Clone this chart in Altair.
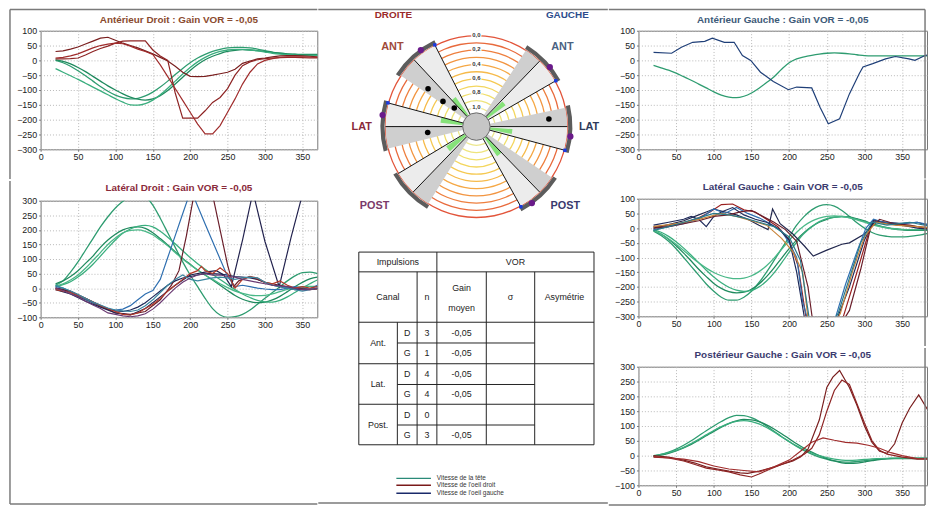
import math
import altair as alt
import pandas as pd

FONT = "Liberation Sans"

# ---------------------------------------------------------------- time grid (ms)
T = [20, 30, 40, 50, 60, 70, 80, 90, 100, 110, 120, 130, 140, 150, 160, 170, 180, 190, 200,
     210, 220, 230, 240, 250, 260, 270, 280, 290, 300, 310, 320, 330, 340, 350, 360, 370, 380, 390]

# ---------------------------------------------------------------- Antérieur Droit
AD_HEAD_1 = [0, -8, -20, -35, -52, -70, -88, -104, -117, -126, -130, -128, -120, -107, -90, -70, -48, -27, -8,
             8, 20, 30, 37, 42, 44, 44, 42, 38, 33, 28, 24, 21, 20, 19, 18, 18, 18, 18]
AD_HEAD_2 = [2, -3, -12, -24, -38, -54, -70, -86, -100, -113, -124, -131, -134, -130, -119, -102, -80, -57, -34,
             -14, 2, 14, 23, 30, 34, 36, 35, 33, 30, 27, 24, 22, 21, 20, 20, 20, 20, 20]
AD_HEAD_3 = [-28, -40, -52, -64, -77, -90, -103, -116, -129, -141, -150, -151, -146, -134, -116, -94, -70, -46, -24,
             -5, 10, 22, 30, 35, 37, 37, 35, 32, 28, 24, 21, 19, 18, 17, 17, 17, 17, 17]
AD_EYE_1 = [30, 32, 38, 45, 55, 65, 75, 78, 68, 58, 50, 42, 32, 22, 10, -2, -20, -40, -54,
            -55, -54, -50, -45, -40, -30, -10, -2, 5, 8, 12, 15, 16, 16, 15, 14, 12, 12, 12]
AD_EYE_2 = [5, 5, 6, 8, 18, 30, 40, 48, 58, 65, 66, 66, 66, 35, 15, 0, -110, -195, -195,
            -195, -170, -142, -125, -95, -50, -18, -5, 2, 6, 8, 9, 10, 10, 9, 8, 8, 8, 8]
AD_EYE_3 = [8, 10, 15, 22, 32, 42, 50, 55, 58, 56, 48, 38, 30, 20, -15, -55, -95, -135, -175,
            -215, -248, -248, -220, -175, -130, -80, -40, -12, 0, 6, 10, 12, 12, 12, 11, 10, 10, 10]

# ---------------------------------------------------------------- Latéral Droit
LD_HEAD_1 = [10, 25, 55, 90, 130, 170, 210, 245, 275, 298, 318, 325, 315, 285, 240, 190, 140, 90, 45,
             5, -35, -70, -92, -100, -98, -90, -75, -55, -35, -15, 5, 25, 42, 53, 55, 50, 42, 35]
LD_HEAD_2 = [15, 25, 40, 60, 85, 110, 140, 165, 185, 200, 208, 210, 205, 190, 170, 148, 125, 102, 82,
             62, 45, 28, 10, -8, -25, -38, -46, -50, -48, -40, -28, -12, 5, 20, 32, 38, 40, 40]
LD_HEAD_3 = [5, 12, 22, 38, 58, 82, 110, 138, 165, 188, 203, 212, 215, 210, 195, 175, 152, 128, 105,
             84, 65, 47, 30, 12, -5, -20, -32, -42, -47, -48, -42, -30, -15, 0, 15, 28, 35, 38]
LD_HEAD_4 = [8, 15, 28, 45, 68, 95, 122, 150, 172, 190, 198, 200, 195, 183, 165, 145, 122, 100, 80,
             62, 45, 30, 15, 2, -10, -18, -24, -26, -25, -20, -12, -4, 2, 5, 6, 6, 5, 5]
LD_EYE_1 = [0, -5, -15, -28, -40, -50, -62, -72, -78, -80, -75, -65, -50, -30, -10, 10, 25, 35, 40,
            45, 50, 50, 48, 45, 40, 38, 35, 30, 20, 10, 5, 0, -5, -5, -3, -2, 0, 0]
LD_EYE_2_X = [20, 30, 40, 50, 60, 70, 80, 90, 100, 110, 120, 130, 140, 150, 160, 170, 180, 190, 200,
              207, 220, 230, 240, 250, 260, 270, 280, 290, 300, 310, 320, 330, 340, 350, 360, 370, 380, 390]
LD_EYE_2_Y = [5, 0, -12, -25, -38, -50, -62, -72, -75, -72, -60, -40, -20, -8, 30, 105, 180, 255, 330,
              300, 220, 160, 100, 40, 5, 10, 5, 0, -3, -5, -5, 0, 5, 0, -3, 10, 60, 150]
LD_EYE_3_X = [20, 40, 60, 80, 100, 120, 140, 160, 175, 185, 195, 205, 230, 240, 250, 258, 265, 280,
              300, 320, 340, 360, 380, 390]
LD_EYE_3_Y = [0, -10, -35, -60, -85, -90, -80, -40, 10, 60, 180, 320, 320, 200, 80, 5, 25, 40,
              20, 10, 0, -5, 0, 0]
LD_EYE_4_X = [20, 40, 60, 80, 100, 120, 140, 160, 180, 200, 220, 235, 245, 255, 270, 284, 300, 319, 335, 352]
LD_EYE_4_Y = [-5, -20, -45, -65, -85, -92, -70, -30, 10, 45, 55, 60, 45, 5, 165, 330, 160, 5, 175, 340]
LD_EYE_5_X = [20, 40, 60, 80, 100, 110, 120, 130, 140, 150, 160, 170, 180, 190, 200, 210, 215, 220, 230,
              240, 250, 260, 270, 280, 290, 300, 310, 320, 330, 340, 350, 360, 370, 380, 390]
LD_EYE_5_Y = [-5, -15, -35, -60, -80, -90, -92, -85, -70, -55, -35, -10, 10, 30, 50, 60, 75, 60, 50,
              70, 50, 0, 30, 40, 35, 20, 15, 25, 10, 0, 5, 0, 5, 5, 5]
LD_EYE_6 = [10, 0, -10, -22, -35, -48, -58, -68, -75, -78, -80, -75, -60, -40, -15, 10, 30, 45, 30,
            25, 30, 35, 38, 35, 30, 35, 38, 35, 20, 10, 5, 0, -5, -10, -5, 0, 5, 5]
LD_EYE_7 = [0, -8, -20, -30, -45, -58, -70, -85, -90, -95, -98, -95, -88, -72, -50, -25, 0, 20, 35,
            45, 50, 45, 45, 40, 38, 30, 25, 20, 15, 10, 8, 5, 0, -5, -5, 0, 0, 0]

# ---------------------------------------------------------------- Antérieur Gauche
AG_HEAD = [-17, -25, -33, -43, -55, -67, -80, -93, -106, -117, -124, -126, -121, -110, -94, -75, -55, -30, -8,
           5, 12, 17, 21, 24, 25, 24, 22, 19, 16, 15, 15, 15, 15, 15, 15, 15, 15, 15]
AG_EYE_X = [20, 44, 57, 72, 88, 98, 114, 127, 138, 149, 162, 179, 199, 210, 230, 241, 252, 267, 280,
            293, 298, 311, 328, 341, 359, 367, 381, 390]
AG_EYE_Y = [27, 24, 44, 61, 64, 75, 61, 61, 16, 0, -40, -71, -99, -90, -93, -158, -214, -197, -113,
            -45, -22, -11, 5, 13, 5, 0, 17, 20]

# ---------------------------------------------------------------- Latéral Gauche
LG_HEAD_1 = [-10, -25, -45, -70, -100, -130, -160, -190, -215, -235, -245, -245, -235, -215, -185, -150, -110, -70, -30,
             10, 40, 62, 76, 80, 75, 60, 40, 18, 0, -15, -24, -28, -30, -30, -28, -25, -20, -15]
LG_HEAD_2 = [-8, -20, -38, -60, -85, -112, -140, -165, -188, -205, -216, -220, -218, -208, -190, -165, -135, -102, -70,
             -40, -15, 5, 20, 30, 37, 40, 38, 32, 25, 15, 8, 2, -3, -6, -8, -8, -8, -8]
LG_HEAD_3 = [-5, -14, -28, -46, -68, -92, -118, -143, -166, -186, -201, -211, -215, -212, -200, -180, -152, -118, -82,
             -48, -18, 5, 22, 32, 37, 38, 36, 30, 22, 14, 7, 2, -2, -4, -5, -5, -5, -5]
LG_HEAD_4 = [-8, -20, -36, -55, -76, -98, -118, -136, -151, -162, -169, -172, -170, -162, -148, -128, -102, -72, -42,
             -14, 8, 24, 34, 40, 42, 40, 35, 28, 20, 12, 5, 0, -3, -5, -5, -5, -5, -5]
LG_EYE_1_X = [20, 40, 60, 80, 95, 110, 125, 140, 155, 170, 185, 200, 212, 224, 258, 272, 290, 305, 312, 325, 345, 370, 390]
LG_EYE_1_Y = [5, 8, 18, 35, 55, 80, 82, 62, 55, 30, 5, -40, -130, -330, -330, -300, -150, -20, 28, 20, 10, 5, 0]
LG_EYE_2_X = [20, 40, 60, 80, 90, 100, 115, 130, 145, 160, 172, 178, 188, 205, 220, 232, 250, 270, 280, 300,
              315, 330, 350, 370, 390]
LG_EYE_2_Y = [0, 12, 25, 45, 55, 65, 55, 45, 30, 10, -5, 65, 15, -20, -60, -95, -75, -55, -50, -20,
              25, 20, 15, 20, 5]
LG_EYE_3_X = [20, 40, 60, 80, 100, 115, 130, 145, 160, 175, 190, 200, 210, 218, 232, 250, 262, 275, 290, 302,
              312, 325, 345, 370, 390]
LG_EYE_3_Y = [-5, 5, 15, 30, 65, 50, 70, 50, 35, 15, -10, -50, -100, -250, -380, -380, -300, -190, -80, 0,
              30, 20, 15, 20, 10]
LG_EYE_4_X = [20, 40, 60, 70, 80, 90, 100, 110, 125, 140, 155, 170, 185, 200, 210, 222, 250, 265, 280, 300,
              312, 330, 350, 370, 390]
LG_EYE_4_Y = [10, 20, 30, 40, 30, 5, 40, 55, 70, 45, 30, 20, 0, -40, -150, -330, -330, -300, -200, -40,
              25, 15, 10, 0, -5]
LG_EYE_5_X = [20, 40, 60, 80, 100, 120, 135, 150, 165, 180, 195, 210, 225, 232, 268, 280, 295, 308, 320, 340, 360, 390]
LG_EYE_5_Y = [0, 5, 15, 25, 40, 45, 55, 60, 40, 20, -5, -45, -200, -330, -330, -280, -140, 0, 30, 15, 10, -5]
LG_EYE_6_X = [20, 50, 80, 110, 130, 150, 170, 190, 205, 218, 226, 260, 268, 285, 300, 315, 340, 370, 390]
LG_EYE_6_Y = [5, 15, 30, 50, 40, 25, 10, -35, -80, -150, -330, -330, -290, -140, -30, 20, 10, 5, 0]
LG_EYE_7_X = [20, 40, 60, 80, 100, 120, 140, 160, 180, 200, 215, 228, 255, 265, 280, 295, 310, 330, 360, 390]
LG_EYE_7_Y = [-8, 5, 20, 35, 50, 45, 35, 20, 5, -30, -110, -330, -330, -290, -170, -50, 20, 10, 20, 5]

# ---------------------------------------------------------------- Postérieur Gauche
PG_HEAD_1 = [-2, 4, 12, 22, 35, 50, 67, 84, 100, 115, 128, 136, 135, 128, 116, 100, 82, 64, 47,
             31, 17, 5, -5, -12, -18, -21, -22, -20, -17, -14, -12, -10, -9, -8, -8, -8, -8, -8]
PG_HEAD_2 = [-2, 2, 8, 16, 26, 38, 52, 67, 82, 96, 108, 117, 122, 121, 115, 104, 90, 74, 57,
             40, 25, 12, 0, -10, -18, -24, -26, -25, -21, -17, -13, -11, -10, -10, -10, -10, -10, -10]
PG_HEAD_3 = [0, 4, 10, 18, 28, 41, 55, 70, 85, 98, 109, 116, 118, 115, 107, 95, 80, 64, 48,
             33, 20, 9, 0, -7, -12, -15, -16, -15, -13, -11, -10, -9, -8, -8, -8, -8, -8, -8]
PG_EYE_1_X = [20, 40, 60, 75, 90, 105, 120, 135, 145, 160, 175, 190, 205, 215, 225, 240, 250, 258, 267, 280,
              290, 300, 310, 320, 330, 340, 350, 360, 372, 385]
PG_EYE_1_Y = [0, -5, -15, -25, -38, -45, -52, -58, -60, -52, -42, -30, -18, -5, 22, 120, 230, 265, 287, 230,
              170, 100, 45, 15, 8, 40, 110, 160, 205, 150]
PG_EYE_2_X = [20, 40, 60, 75, 90, 105, 120, 135, 150, 160, 175, 190, 205, 220, 230, 240, 250, 260, 270, 280,
              290, 300, 310, 320, 330, 350, 370, 390]
PG_EYE_2_Y = [-5, -8, -18, -30, -42, -48, -55, -65, -72, -62, -45, -30, -15, 5, 25, 70, 150, 220, 255, 240,
              175, 110, 50, 18, 5, -5, -12, -10]
PG_EYE_3_X = [20, 40, 60, 80, 100, 120, 140, 160, 180, 200, 215, 230, 245, 260, 275, 290, 305, 320, 335, 350, 370, 390]
PG_EYE_3_Y = [-3, -8, -12, -20, -35, -45, -50, -55, -38, -15, 15, 45, 60, 52, 45, 42, 35, 25, 10, 0, -10, -12]

# ---------------------------------------------------------------- colours
HEAD_COLS = ["#2e9c70", "#1f8a5e", "#3aae7e", "#4ab888"]
RED_COLS = ["#7a1f1f", "#8e2424", "#a02c2c"]

TRACES = [
    ("AD", "head", HEAD_COLS[0], T, AD_HEAD_1), ("AD", "head", HEAD_COLS[1], T, AD_HEAD_2),
    ("AD", "head", HEAD_COLS[2], T, AD_HEAD_3),
    ("AD", "eye", RED_COLS[0], T, AD_EYE_1), ("AD", "eye", RED_COLS[1], T, AD_EYE_2),
    ("AD", "eye", RED_COLS[2], T, AD_EYE_3),
    ("LD", "head", HEAD_COLS[0], T, LD_HEAD_1), ("LD", "head", HEAD_COLS[1], T, LD_HEAD_2),
    ("LD", "head", HEAD_COLS[2], T, LD_HEAD_3), ("LD", "head", HEAD_COLS[3], T, LD_HEAD_4),
    ("LD", "eye", "#1e2a5a", T, LD_EYE_1), ("LD", "eye", "#2f6fb0", LD_EYE_2_X, LD_EYE_2_Y),
    ("LD", "eye", "#6a1e2a", LD_EYE_3_X, LD_EYE_3_Y), ("LD", "eye", "#22224e", LD_EYE_4_X, LD_EYE_4_Y),
    ("LD", "eye", "#b33a2a", LD_EYE_5_X, LD_EYE_5_Y), ("LD", "eye", "#3a86a0", T, LD_EYE_6),
    ("LD", "eye", "#6a3a72", T, LD_EYE_7),
    ("AG", "head", HEAD_COLS[0], T, AG_HEAD), ("AG", "eye", "#1f3f78", AG_EYE_X, AG_EYE_Y),
    ("LG", "head", HEAD_COLS[0], T, LG_HEAD_1), ("LG", "head", HEAD_COLS[1], T, LG_HEAD_2),
    ("LG", "head", HEAD_COLS[2], T, LG_HEAD_3), ("LG", "head", HEAD_COLS[3], T, LG_HEAD_4),
    ("LG", "eye", "#9a2020", LG_EYE_1_X, LG_EYE_1_Y), ("LG", "eye", "#22284e", LG_EYE_2_X, LG_EYE_2_Y),
    ("LG", "eye", "#2f6fb0", LG_EYE_3_X, LG_EYE_3_Y), ("LG", "eye", "#1e2a5a", LG_EYE_4_X, LG_EYE_4_Y),
    ("LG", "eye", "#6a1e2a", LG_EYE_5_X, LG_EYE_5_Y), ("LG", "eye", "#c8843a", LG_EYE_6_X, LG_EYE_6_Y),
    ("LG", "eye", "#2a7a8a", LG_EYE_7_X, LG_EYE_7_Y),
    ("PG", "head", HEAD_COLS[0], T, PG_HEAD_1), ("PG", "head", HEAD_COLS[1], T, PG_HEAD_2),
    ("PG", "head", HEAD_COLS[2], T, PG_HEAD_3),
    ("PG", "eye", RED_COLS[0], PG_EYE_1_X, PG_EYE_1_Y), ("PG", "eye", RED_COLS[1], PG_EYE_2_X, PG_EYE_2_Y),
    ("PG", "eye", RED_COLS[2], PG_EYE_3_X, PG_EYE_3_Y),
]

rows = []
for i, (pan, kind, col, xs, ys) in enumerate(TRACES):
    for x, y in zip(xs, ys):
        rows.append({"panel": pan, "kind": kind, "trace": f"t{i}", "color": col, "x": x, "y": y})
DF = pd.DataFrame(rows)

XTICKS = [0, 50, 100, 150, 200, 250, 300, 350]

# ---------------------------------------------------------------- window frame pieces
# horizontal ("h", x1, x2, y) or vertical ("v", x, y1, y2) pieces, in pixels relative to the
# plot origin of the view that carries them; drawn as thin filled rectangles
ONE = pd.DataFrame({"k": [0]})
FRAME_COLOR = "#7a7a7a"
FW = 0.75
NO_VIEW = alt.ViewBackground(stroke="transparent", strokeWidth=0)


def frame_layers(segs):
    out = []
    for kind, a, b, c in segs:
        if kind == "h":
            x1, x2, y1, y2 = a, b, c - FW, c + FW
        else:
            x1, x2, y1, y2 = a - FW, a + FW, b, c
        out.append(alt.Chart(ONE).mark_rect(color=FRAME_COLOR, opacity=1).encode(
            x=alt.value(x1), x2=alt.value(x2), y=alt.value(y1), y2=alt.value(y2)))
    return out


def panel(pid, title, tcolor, ydom, w, h, xmax, title_dy, segs=()):
    d = DF[DF.panel == pid]
    xenc = alt.X("x:Q", scale=alt.Scale(domain=[0, xmax], nice=False, zero=False),
                 axis=alt.Axis(values=XTICKS, title=None, grid=True, gridColor="#b8b8b8", gridDash=[1, 2],
                               domain=False, tickSize=2, tickColor="#777", labelFontSize=9,
                               labelFont=FONT, labelColor="#222", labelPadding=1, labelFlush=False,
                               labelOverlap=False, minExtent=14, maxExtent=14))
    yenc = alt.Y("y:Q", scale=alt.Scale(domain=ydom, nice=False, zero=False),
                 axis=alt.Axis(values=list(range(ydom[0], ydom[1] + 1, 50)), title=None, grid=True,
                               gridColor="#b8b8b8", gridDash=[1, 2], domain=False, tickSize=2,
                               tickColor="#777", labelFontSize=9, labelFont=FONT, labelColor="#222",
                               labelPadding=2, labelFlush=False, labelOverlap=False,
                               minExtent=30, maxExtent=30))
    col = alt.Color("color:N", scale=None)
    heads = alt.Chart(d[d.kind == "head"]).mark_line(clip=True, strokeWidth=1.3, interpolate="monotone").encode(
        x=xenc, y=yenc, color=col, detail="trace:N")
    eyes = alt.Chart(d[d.kind == "eye"]).mark_line(clip=True, strokeWidth=1.2).encode(
        x=xenc, y=yenc, color=col, detail="trace:N")
    ttl = alt.Chart(ONE).mark_text(text=title, color=tcolor, fontSize=10, fontWeight="bold", font=FONT,
                                   baseline="middle").encode(x=alt.value(w / 2), y=alt.value(title_dy))
    return alt.layer(heads, eyes, ttl, *frame_layers(segs)).properties(
        width=w, height=h, view=alt.ViewBackground(stroke="#777", strokeWidth=1))


# ---------------------------------------------------------------- polar diagram
R_IN, R_SPAN = 19, 73          # pixel radius of gain 1.0 and pixels per gain unit
PW, PH = 293, 223
PX = [-160, 133]
PY = [-126, 97]


def rpx(g):
    return R_IN + (1 - g) * R_SPAN


CANALS = ["ANT_D", "LAT_D", "POST_D", "ANT_G", "LAT_G", "POST_G"]
LIGHT_START = [117, 165, 211, 30, -15, 299]
LIGHT_END = [133, 180, 226, 46, 0, 314]
DARK_END = [146, 194, 238, 57, 12, 326]
GREEN_START = [125, 165, 213, 36, -12, 305]
GREEN_END = [133, 174, 223, 44, -4, 314]
CANAL_N = [3, 4, 0, 1, 4, 3]

RING_GAINS = [0.0, 0.1, 0.2, 0.3, 0.4, 0.5, 0.6, 0.7, 0.8, 0.9, 1.0]
RING_COLORS = ["#e2543a", "#e86a3c", "#ee7f3e", "#f29541", "#f5a845", "#f6ba4a",
               "#f5c952", "#f3d65e", "#f0df6c", "#eee47c", "#ece78e"]
RING_LABELS = ["0,0", "0,2", "0,4", "0,6", "0,8", "1,0"]
RING_LABEL_GAINS = [0.0, 0.2, 0.4, 0.6, 0.8, 1.0]

DOT_ANGLE = [142, 143, 140, 187, 6]
DOT_GAIN = [0.41, 0.68, 0.86, 0.58, 0.25]
PURPLE_ANGLE = [126, 173, 39, -6, 306]
PURPLE_GAIN = [-0.05, -0.05, -0.05, -0.05, -0.05]
BLUE_ANGLE = [117, 165, 30, -15, 299]

SIDE_TEXT = ["DROITE", "GAUCHE", "ANT", "LAT", "POST", "ANT", "LAT", "POST"]
SIDE_COLOR = ["#9a2a2a", "#2c4c8c", "#a04a3a", "#8a2a3a", "#7a3a6a", "#4a6282", "#2e3a5a", "#3a3a6e"]
SIDE_SIZE = [10, 10, 11, 11, 11, 11, 11, 11]
SIDE_DX = [-84, 92, -85, -116, -103, 87, 114, 90]
SIDE_DY = [113, 113, 80, 0, -80, 80, 0, -80]

xs_p = alt.Scale(domain=PX, nice=False, zero=False)
ys_p = alt.Scale(domain=PY, nice=False, zero=False)
r_scale = alt.Scale(type="linear", domain=[1, 0], range=[R_IN, R_IN + R_SPAN], zero=False, nice=False)
t_scale = alt.Scale(type="linear", domain=[0, 360], range=[0, 2 * math.pi], zero=False, nice=False)


def arcs(df, **mark):
    df = df.copy()
    df["cx"] = 0
    df["cy"] = 0
    enc = dict(x=alt.X("cx:Q", scale=xs_p, axis=None), y=alt.Y("cy:Q", scale=ys_p, axis=None),
               theta=alt.Theta("t1:Q", scale=t_scale, stack=None), theta2="t2:Q",
               radius=alt.Radius("g1:Q", scale=r_scale), radius2="g2:Q")
    if "col" in df.columns:
        enc["color"] = alt.Color("col:N", scale=None)
    return alt.Chart(df).mark_arc(**mark).encode(**enc)


def seg_df(a_from, a_to, g1, g2):
    return pd.DataFrame({"t1": [90 - b for b in a_to], "t2": [90 - a for a in a_from],
                         "g1": g1, "g2": g2})


ring_df = pd.DataFrame({"t1": 0, "t2": 360, "g1": [g + 0.009 for g in RING_GAINS],
                        "g2": [g - 0.009 for g in RING_GAINS], "col": RING_COLORS})
light_df = seg_df(LIGHT_START, LIGHT_END, 1.07, 0.0)
dark_df = seg_df(LIGHT_END, DARK_END, 1.07, 0.0)
green_df = seg_df(GREEN_START, GREEN_END, 1.07, 0.76)
outer_df = seg_df([a - 1 for a in LIGHT_START], [a + 1 for a in DARK_END], -0.012, -0.07)
inner_df = pd.DataFrame({"t1": [0], "t2": [360], "g1": [1 + R_IN / R_SPAN], "g2": [1.07]})


def polar_xy(angles, gains):
    return ([rpx(g) * math.cos(math.radians(a)) for a, g in zip(angles, gains)],
            [rpx(g) * math.sin(math.radians(a)) for a, g in zip(angles, gains)])


line_angles = LIGHT_START + LIGHT_END
lx1, ly1 = polar_xy(line_angles, [1.07] * len(line_angles))
lx2, ly2 = polar_xy(line_angles, [0.0] * len(line_angles))
lines_df = pd.DataFrame({"x": lx1, "y": ly1, "x2": lx2, "y2": ly2})

dx, dy = polar_xy(DOT_ANGLE, DOT_GAIN)
dots_df = pd.DataFrame({"x": dx, "y": dy})
px_, py_ = polar_xy(PURPLE_ANGLE, PURPLE_GAIN)
purple_df = pd.DataFrame({"x": px_, "y": py_})
bx, by = polar_xy(BLUE_ANGLE, [-0.01] * len(BLUE_ANGLE))
blue_df = pd.DataFrame({"x": bx, "y": by})
rl_df = pd.DataFrame({"x": 0, "y": [rpx(g) + 1 for g in RING_LABEL_GAINS], "t": RING_LABELS})
side_df = pd.DataFrame({"x": SIDE_DX, "y": SIDE_DY, "t": SIDE_TEXT, "c": SIDE_COLOR, "s": SIDE_SIZE})

PXE = alt.X("x:Q", scale=xs_p, axis=None)
PYE = alt.Y("y:Q", scale=ys_p, axis=None)

polar = alt.layer(
    arcs(ring_df, stroke=None),
    arcs(light_df, fill="#ececec", stroke=None),
    arcs(dark_df, fill="#cfcfcf", stroke=None),
    arcs(green_df, fill="#86e27a", stroke=None),
    alt.Chart(lines_df).mark_rule(color="#111", strokeWidth=1).encode(x=PXE, y=PYE, x2="x2:Q", y2="y2:Q"),
    arcs(outer_df, fill="#5c5c5c", stroke=None),
    arcs(inner_df, fill="#c6c6c6", stroke="#6a6a6a", strokeWidth=1),
    alt.Chart(rl_df).mark_text(fontSize=6, fontWeight="bold", font=FONT, color="white", stroke="white",
                               strokeWidth=2.5).encode(x=PXE, y=PYE, text="t:N"),
    alt.Chart(rl_df).mark_text(fontSize=6, fontWeight="bold", font=FONT, color="#333").encode(
        x=PXE, y=PYE, text="t:N"),
    alt.Chart(dots_df).mark_circle(size=32, color="#000", opacity=1).encode(x=PXE, y=PYE),
    alt.Chart(purple_df).mark_circle(size=40, color="#6a1a8a", opacity=1).encode(x=PXE, y=PYE),
    alt.Chart(blue_df).mark_square(size=12, color="#1a3ae0", opacity=1).encode(x=PXE, y=PYE),
    alt.Chart(side_df).mark_text(fontWeight="bold", font=FONT).encode(
        x=PXE, y=PYE, text="t:N", color=alt.Color("c:N", scale=None), size=alt.Size("s:Q", scale=None)),
    *frame_layers([("h", 0, PW, -21.5)]),
).properties(width=PW, height=PH, view=NO_VIEW)

# ---------------------------------------------------------------- table
TW, TH = 293, 197
TX = [-41, 252]
COL_EDGES = [0, 39, 59, 79, 129, 178, 238]
ROW_EDGES = [0, 20, 71, 92, 113, 134, 154, 175, 195]
H_LINES = [(0, 6, 0), (0, 6, 1), (0, 6, 2), (1, 5, 3), (0, 6, 4), (1, 5, 5), (0, 6, 6), (1, 5, 7), (0, 6, 8)]
V_LINES = [(0, 0, 8), (1, 2, 8), (2, 1, 8), (3, 0, 8), (4, 1, 8), (5, 1, 8), (6, 0, 8)]

seg_rows = []
for c0, c1, r in H_LINES:
    seg_rows.append({"x": COL_EDGES[c0], "x2": COL_EDGES[c1], "y": ROW_EDGES[r], "y2": ROW_EDGES[r]})
for c, r0, r1 in V_LINES:
    seg_rows.append({"x": COL_EDGES[c], "x2": COL_EDGES[c], "y": ROW_EDGES[r0], "y2": ROW_EDGES[r1]})
tseg_df = pd.DataFrame(seg_rows)


def mid(a, b):
    return (a + b) / 2


CANAL_NAMES = ["Ant.", "Lat.", "Post."]
SIDES = ["D", "G", "D", "G", "D", "G"]
N_VALUES = ["3", "1", "4", "4", "0", "3"]
GAIN_VALUES = ["-0,05", "-0,05", "-0,05", "-0,05", "", "-0,05"]

ttext = [
    ("Impulsions", mid(COL_EDGES[0], COL_EDGES[3]), mid(ROW_EDGES[0], ROW_EDGES[1])),
    ("VOR", mid(COL_EDGES[3], COL_EDGES[6]), mid(ROW_EDGES[0], ROW_EDGES[1])),
    ("Canal", mid(COL_EDGES[0], COL_EDGES[2]), mid(ROW_EDGES[1], ROW_EDGES[2])),
    ("n", mid(COL_EDGES[2], COL_EDGES[3]), mid(ROW_EDGES[1], ROW_EDGES[2])),
    ("Gain", mid(COL_EDGES[3], COL_EDGES[4]), ROW_EDGES[1] + 16),
    ("moyen", mid(COL_EDGES[3], COL_EDGES[4]), ROW_EDGES[1] + 37),
    ("σ", mid(COL_EDGES[4], COL_EDGES[5]), mid(ROW_EDGES[1], ROW_EDGES[2])),
    ("Asymétrie", mid(COL_EDGES[5], COL_EDGES[6]), mid(ROW_EDGES[1], ROW_EDGES[2])),
]
for k, name in enumerate(CANAL_NAMES):
    ttext.append((name, mid(COL_EDGES[0], COL_EDGES[1]), ROW_EDGES[3 + 2 * k]))
for k in range(6):
    yc = mid(ROW_EDGES[2 + k], ROW_EDGES[3 + k])
    ttext.append((SIDES[k], mid(COL_EDGES[1], COL_EDGES[2]), yc))
    ttext.append((N_VALUES[k], mid(COL_EDGES[2], COL_EDGES[3]), yc))
    if GAIN_VALUES[k]:
        ttext.append((GAIN_VALUES[k], mid(COL_EDGES[3], COL_EDGES[4]), yc))
ttext_df = pd.DataFrame(ttext, columns=["t", "x", "y"])

tx_s = alt.Scale(domain=TX, nice=False, zero=False)
ty_s = alt.Scale(domain=[0, TH], nice=False, zero=False, reverse=True)
table = alt.layer(
    alt.Chart(tseg_df).mark_rule(color="#222", strokeWidth=1).encode(
        x=alt.X("x:Q", scale=tx_s, axis=None), x2="x2:Q",
        y=alt.Y("y:Q", scale=ty_s, axis=None), y2="y2:Q"),
    alt.Chart(ttext_df).mark_text(fontSize=9, font=FONT, color="#222").encode(
        x=alt.X("x:Q", scale=tx_s, axis=None), y=alt.Y("y:Q", scale=ty_s, axis=None), text="t:N"),
).properties(width=TW, height=TH, view=NO_VIEW)

# ---------------------------------------------------------------- legend
LEG_LABELS = ["Vitesse de la tête", "Vitesse de l'oeil droit", "Vitesse de l'oeil gauche"]
LEG_COLORS = ["#2a8a78", "#7a1a1a", "#1a2a6a"]
LW, LH = 293, 55
leg_df = pd.DataFrame({"t": LEG_LABELS, "c": LEG_COLORS, "y": [32, 39, 47],
                       "x": 79, "x2": 114, "tx": 120})
lx_s = alt.Scale(domain=[0, LW], nice=False, zero=False)
ly_s = alt.Scale(domain=[0, LH], nice=False, zero=False, reverse=True)
legend = alt.layer(
    alt.Chart(leg_df).mark_rule(strokeWidth=1.5).encode(
        x=alt.X("x:Q", scale=lx_s, axis=None), x2="x2:Q", y=alt.Y("y:Q", scale=ly_s, axis=None),
        color=alt.Color("c:N", scale=None)),
    alt.Chart(leg_df).mark_text(fontSize=6.5, font=FONT, color="#333", align="left").encode(
        x=alt.X("tx:Q", scale=lx_s, axis=None), y=alt.Y("y:Q", scale=ly_s, axis=None), text="t:N"),
    *frame_layers([("h", 0, LW, 57)]),
).properties(width=LW, height=LH, view=NO_VIEW)

# ---------------------------------------------------------------- assemble
left = alt.vconcat(
    panel("AD", "Antérieur Droit : Gain VOR = -0,05", "#8a4a2e", [-300, 100], 280, 120, 370, -11,
          segs=[("h", -31, 280, -21.5), ("v", -31, -21.5, 150)]),
    panel("LD", "Latéral Droit : Gain VOR = -0,05", "#8a2a3a", [-100, 300], 280, 118, 370, -13,
          segs=[("v", -31, -20, 307), ("h", -31, 280, 307)]),
    spacing=0)
middle = alt.vconcat(polar, table, legend, spacing=0)
right = alt.vconcat(
    panel("AG", "Antérieur Gauche : Gain VOR = -0,05", "#3d5a78", [-300, 100], 292, 120, 383, -11,
          segs=[("h", -30, 290, -21.5), ("v", 290, -21.5, 149.5)]),
    panel("LG", "Latéral Gauche : Gain VOR = -0,05", "#3a3a6e", [-300, 100], 292, 119, 383, -12,
          segs=[("v", 290, -19.5, 149)]),
    panel("PG", "Postérieur Gauche : Gain VOR = -0,05", "#3a3a6e", [-100, 300], 292, 120, 383, -12,
          segs=[("v", 290, -19, 140), ("h", -30, 290, 140)]),
    spacing=0)

chart = alt.hconcat(left, middle, right, spacing=0).properties(
    padding={"left": 0, "top": -3, "right": 0, "bottom": 0},
    background="white",
).configure_view(stroke="transparent", strokeWidth=0)

chart.save("out.html", embed_options={"renderer": "svg", "actions": False})
